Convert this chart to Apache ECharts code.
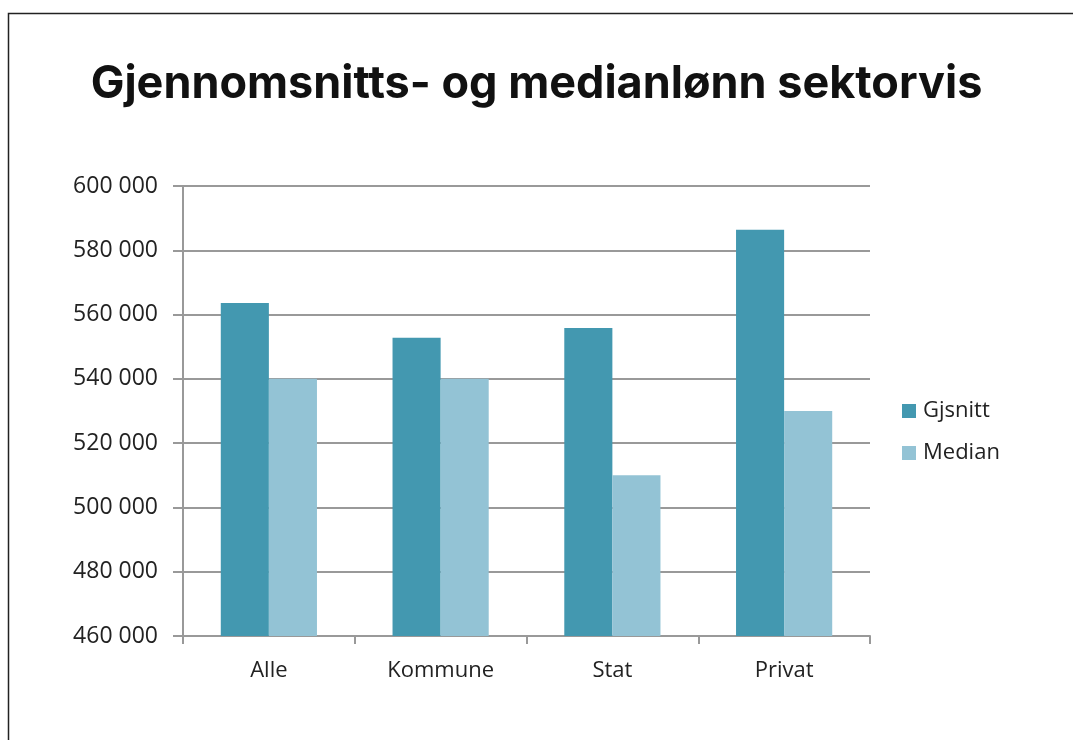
<!DOCTYPE html>
<html>
<head>
<meta charset="utf-8">
<script src="https://cdn.jsdelivr.net/npm/echarts@6/dist/echarts.min.js"></script>
<style>
html, body { margin: 0; padding: 0; background: #fff; }
#container { width: 1073px; height: 740px; }
</style>
</head>
<body>
<div id="container"></div>
<script>
var categories = ['Alle', 'Kommune', 'Stat', 'Privat'];
var gjsnitt = [563600, 552800, 555800, 586400];
var median = [540000, 540000, 510000, 530000];
var yTicks = { min: 460000, max: 600000, step: 20000 };

var myChart = echarts.init(document.getElementById('container'));

function fmt(v) {
    // tusenskille med mellomrom
    return String(v).replace(/\B(?=(\d{3})+(?!\d))/g, ' ');
}

var option = {
    animation: false,
    backgroundColor: '#fff',
    graphic: [{
        type: 'rect',
        left: 6, top: 11,
        shape: { width: 1100, height: 760 },
        style: { fill: 'none', stroke: '#222', lineWidth: 1.5 },
        silent: true
    }],
    title: {
        text: 'Gjennomsnitts- og medianlønn sektorvis',
        left: 'center',
        top: 57,
        textStyle: {
            fontFamily: 'Inter',
            fontWeight: 700,
            fontSize: 45,
            color: '#111'
        }
    },
    legend: {
        orient: 'vertical',
        left: 897,
        top: 395,
        itemWidth: 14,
        itemHeight: 14,
        itemGap: 20,
        icon: 'rect',
        textStyle: { fontFamily: 'Open Sans', fontSize: 22, color: '#222', padding: [0, 0, 0, 2] },
        data: ['Gjsnitt', 'Median']
    },
    grid: { left: 183, top: 186, width: 687, height: 450, containLabel: false },
    xAxis: {
        type: 'category',
        data: categories,
        axisLine: { lineStyle: { color: '#999', width: 2 } },
        axisTick: { show: true, length: 8, lineStyle: { color: '#999', width: 2 } },
        axisLabel: { margin: 24, fontFamily: 'Open Sans', fontSize: 22, color: '#222' }
    },
    yAxis: {
        type: 'value',
        min: yTicks.min,
        max: yTicks.max,
        interval: yTicks.step,
        axisLine: { show: true, lineStyle: { color: '#999', width: 2 } },
        axisTick: { show: true, length: 10, lineStyle: { color: '#999', width: 2 } },
        splitLine: { lineStyle: { color: '#999', width: 2 } },
        axisLabel: {
            margin: 25,
            fontFamily: 'Open Sans', fontSize: 23, color: '#222',
            formatter: fmt
        }
    },
    series: [{
        name: 'Gjsnitt',
        type: 'bar',
        data: gjsnitt,
        barGap: '0%',
        barCategoryGap: '44%',
        itemStyle: { color: '#4398B0' }
    }, {
        name: 'Median',
        type: 'bar',
        data: median,
        itemStyle: { color: '#93C3D5' }
    }]
};

myChart.setOption(option);
</script>
</body>
</html>
